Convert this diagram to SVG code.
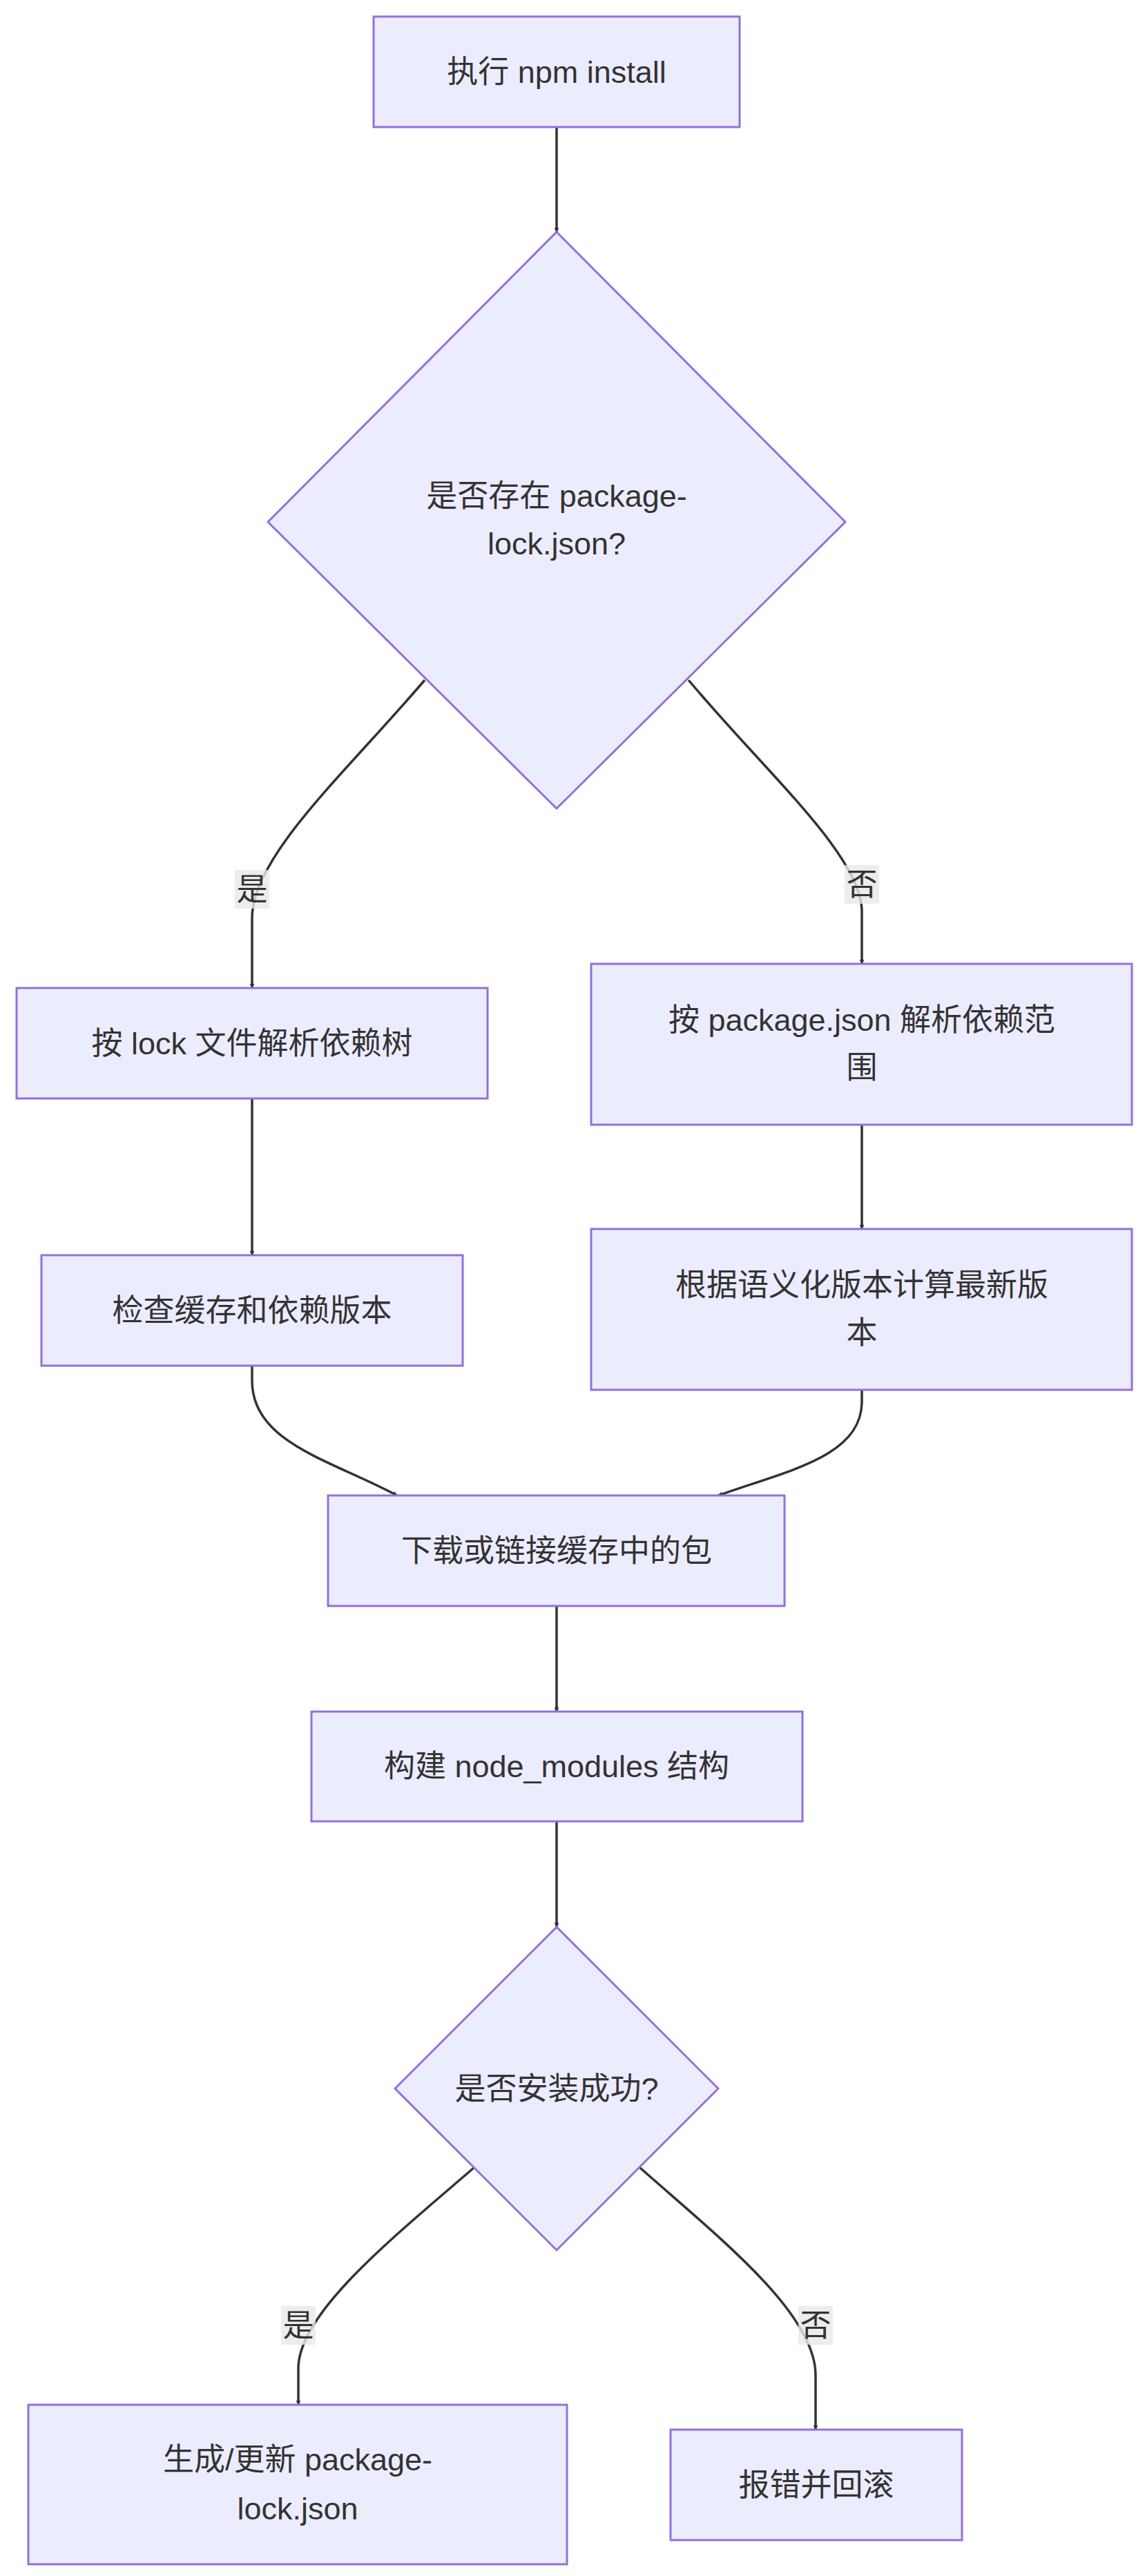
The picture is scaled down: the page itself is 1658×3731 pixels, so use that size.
<svg xmlns="http://www.w3.org/2000/svg" width="1658" height="3731" viewBox="0 0 1658 3731">
<style>
.n{fill:#ECECFF;stroke:#9370DB;stroke-width:3}
.t{font-family:"Trebuchet MS","Liberation Sans","Noto Sans CJK SC",sans-serif;font-size:45px;fill:#333;text-anchor:middle;dominant-baseline:central}
.e{fill:none;stroke:#333;stroke-width:3.5}
.lb{fill:rgba(232,232,232,0.8)}
</style>
<defs><marker id="a" viewBox="0 0 10 10" refX="9" refY="5" markerWidth="7" markerHeight="7" markerUnits="userSpaceOnUse" orient="auto"><path d="M0,0L10,5L0,10z" fill="#333"/></marker></defs>
<rect width="1658" height="3731" fill="#fff"/>
<g id="edges">
<path class="e" marker-end="url(#a)" transform="" d="M806,184L806,336" style="marker-end:url(#a)"/>
<path class="e" d="M615,985C500,1120 365,1240 365,1330L365,1431" marker-end="url(#a)"/>
<path class="e" d="M997,985C1110,1120 1248,1240 1248,1320L1248,1396" marker-end="url(#a)"/>
<path class="e" d="M365,1591L365,1818" marker-end="url(#a)"/>
<path class="e" d="M1248,1629L1248,1780" marker-end="url(#a)"/>
<path class="e" d="M365,1978L365,2000C365,2090 480,2115 575,2166" marker-end="url(#a)"/>
<path class="e" d="M1248,2013L1248,2030C1248,2110 1140,2130 1040,2166" marker-end="url(#a)"/>
<path class="e" d="M806,2326L806,2479" marker-end="url(#a)"/>
<path class="e" d="M806,2638L806,2791" marker-end="url(#a)"/>
<path class="e" d="M687,3139C570,3240 432,3350 432,3430L432,3483" marker-end="url(#a)"/>
<path class="e" d="M926,3139C1040,3240 1181,3350 1181,3440L1181,3519" marker-end="url(#a)"/>
<rect class="lb" x="340" y="1260" width="50" height="56"/><text class="t" x="365" y="1288">是</text>
<rect class="lb" x="1223" y="1253" width="50" height="56"/><text class="t" x="1248" y="1281">否</text>
<rect class="lb" x="407" y="3340" width="50" height="56"/><text class="t" x="432" y="3368">是</text>
<rect class="lb" x="1156" y="3340" width="50" height="56"/><text class="t" x="1181" y="3368">否</text>
</g>
<g id="n1"><rect class="n" x="541" y="24" width="530" height="160"/><text class="t" x="806" y="104">执行 npm install</text></g>
<g id="n2"><polygon class="n" points="806,336 1224,756 806,1171 388,756"/><text class="t" x="806" y="718">是否存在 package-</text><text class="t" x="806" y="787">lock.json?</text></g>
<g id="n3"><rect class="n" x="24" y="1431" width="682" height="160"/><text class="t" x="365" y="1511">按 lock 文件解析依赖树</text></g>
<g id="n4"><rect class="n" x="856" y="1396" width="783" height="233"/><text class="t" x="1248" y="1477">按 package.json 解析依赖范</text><text class="t" x="1248" y="1546">围</text></g>
<g id="n5"><rect class="n" x="60" y="1818" width="610" height="160"/><text class="t" x="365" y="1898">检查缓存和依赖版本</text></g>
<g id="n6"><rect class="n" x="856" y="1780" width="783" height="233"/><text class="t" x="1248" y="1861">根据语义化版本计算最新版</text><text class="t" x="1248" y="1930">本</text></g>
<g id="n7"><rect class="n" x="475" y="2166" width="661" height="160"/><text class="t" x="806" y="2246">下载或链接缓存中的包</text></g>
<g id="n8"><rect class="n" x="451" y="2479" width="711" height="159"/><text class="t" x="806" y="2558">构建 node_modules 结构</text></g>
<g id="n9"><polygon class="n" points="806,2791 1040,3025 806,3259 572,3025"/><text class="t" x="806" y="3025">是否安装成功?</text></g>
<g id="n10"><rect class="n" x="41" y="3483" width="780" height="231"/><text class="t" x="431" y="3562">生成/更新 package-</text><text class="t" x="431" y="3633">lock.json</text></g>
<g id="n11"><rect class="n" x="971" y="3519" width="422" height="160"/><text class="t" x="1182" y="3599">报错并回滚</text></g>
</svg>
